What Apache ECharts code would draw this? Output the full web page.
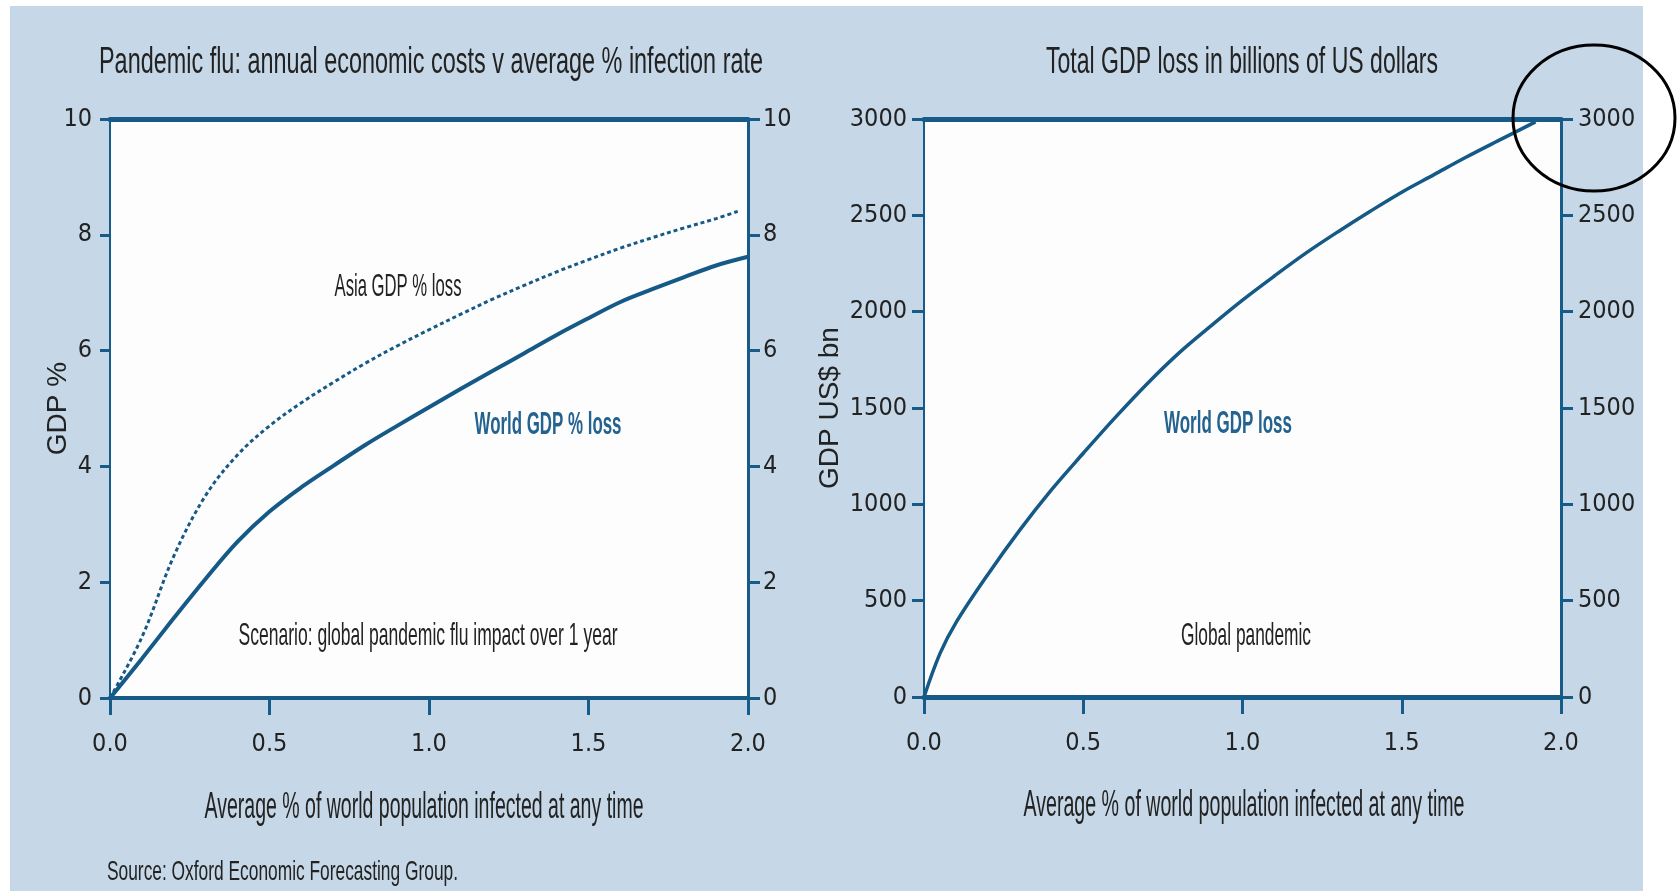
<!DOCTYPE html>
<html>
<head>
<meta charset="utf-8">
<script src="https://cdn.jsdelivr.net/npm/echarts@6/dist/echarts.min.js"></script>
<style>
  html, body { margin: 0; padding: 0; background: #ffffff; }
  #chart { width: 1677px; height: 891px; }
</style>
</head>
<body>
<div id="chart"></div>
<script>
// ---------- data ----------
const titleLeft = 'Pandemic flu: annual economic costs v average % infection rate';
const titleRight = 'Total GDP loss in billions of US dollars';
const xAxisTitle = 'Average % of world population infected at any time';
const sourceText = 'Source: Oxford Economic Forecasting Group.';
const leftYName = 'GDP %';
const rightYName = 'GDP US$ bn';
const asiaLabel = 'Asia GDP % loss';
const worldPctLabel = 'World GDP % loss';
const scenarioLabel = 'Scenario: global pandemic flu impact over 1 year';
const worldUsdLabel = 'World GDP loss';
const globalLabel = 'Global pandemic';

const xTickLabels = ['0.0', '0.5', '1.0', '1.5', '2.0'];
const leftYTicks = ['0', '2', '4', '6', '8', '10'];
const rightYTicks = ['0', '500', '1000', '1500', '2000', '2500', '3000'];

// left panel: world GDP % loss (solid)
const worldInfection = [0, 0.1, 0.2, 0.3, 0.4, 0.5, 0.6, 0.7, 0.8, 0.9, 1.0, 1.1, 1.2, 1.3, 1.4, 1.5, 1.6, 1.7, 1.8, 1.9, 2.0];
const worldGdpPct    = [0, 0.68, 1.38, 2.06, 2.70, 3.22, 3.64, 4.01, 4.37, 4.70, 5.02, 5.34, 5.65, 5.96, 6.27, 6.56, 6.84, 7.06, 7.27, 7.47, 7.62];

// left panel: Asia GDP % loss (dotted)
const asiaInfection = [0, 0.1, 0.2, 0.3, 0.4, 0.5, 0.6, 0.7, 0.8, 0.9, 1.0, 1.1, 1.2, 1.3, 1.4, 1.5, 1.6, 1.7, 1.8, 1.9, 1.97];
const asiaGdpPct    = [0, 1.05, 2.45, 3.50, 4.20, 4.70, 5.10, 5.45, 5.78, 6.08, 6.36, 6.63, 6.89, 7.13, 7.36, 7.57, 7.77, 7.95, 8.12, 8.28, 8.41];

// right panel: world GDP loss, US$ bn
const usdInfection = [0, 0.05, 0.1, 0.2, 0.3, 0.4, 0.5, 0.6, 0.7, 0.8, 0.9, 1.0, 1.1, 1.2, 1.3, 1.4, 1.5, 1.6, 1.7, 1.8, 1.92];
const worldGdpUsd  = [0, 225, 385, 635, 865, 1075, 1265, 1450, 1625, 1785, 1925, 2060, 2185, 2305, 2415, 2520, 2620, 2710, 2800, 2885, 2985];

// ---------- styles ----------
const LINE = '#155a87';
const AXIS = '#175c89';
const PANEL = '#c6d8e8';
const TEXT = '#222222';
const LABEL_FONT = "'Liberation Sans Narrow', 'DejaVu Sans Condensed', 'Liberation Sans', Arial, sans-serif";

const pairs = (xs, ys) => xs.map((x, i) => [x, ys[i]]);

const measureCtx = document.createElement('canvas').getContext('2d');
function fitText(text, x, y, targetW, size, opts) {
  opts = opts || {};
  const weight = opts.weight || 'normal';
  const fam = 'Liberation Sans';
  measureCtx.font = weight + ' ' + size + 'px "' + fam + '"';
  const w = measureCtx.measureText(text).width;
  const align = opts.align || 'center';
  return {
    type: 'text', x: x, y: y, scaleX: targetW / w, z: 50,
    style: {
      text: text, fontSize: size, fontFamily: fam, fontWeight: weight,
      fill: opts.color || TEXT,
      align: align, textAlign: align,
      verticalAlign: 'middle', textVerticalAlign: 'middle'
    }
  };
}

function xAxisBottom(gridIndex, lineW) {
  return {
    type: 'value', gridIndex: gridIndex, position: 'bottom', min: 0, max: 2, interval: 0.5,
    axisLine: { show: true, onZero: false, lineStyle: { color: AXIS, width: lineW } },
    axisTick: { show: true, inside: false, length: 17, lineStyle: { color: AXIS, width: 3 } },
    axisLabel: {
      show: true, margin: 34, fontSize: 25, fontFamily: LABEL_FONT, color: TEXT,
      formatter: v => xTickLabels[Math.round(v / 0.5)]
    },
    splitLine: { show: false }
  };
}
function xAxisTop(gridIndex) {
  return {
    type: 'value', gridIndex: gridIndex, position: 'top', min: 0, max: 2, interval: 0.5,
    axisLine: { show: true, onZero: false, lineStyle: { color: AXIS, width: 5 } },
    axisTick: { show: false }, axisLabel: { show: false }, splitLine: { show: false }
  };
}
function yAxisDef(gridIndex, pos, max, interval, ticks, lineW, tickLen, margin, extra) {
  return Object.assign({
    type: 'value', gridIndex: gridIndex, position: pos, min: 0, max: max, interval: interval,
    axisLine: { show: true, onZero: false, lineStyle: { color: AXIS, width: lineW } },
    axisTick: { show: true, inside: false, length: tickLen, lineStyle: { color: AXIS, width: 3 } },
    axisLabel: {
      show: true, margin: margin, fontSize: 25, fontFamily: LABEL_FONT, color: TEXT,
      formatter: v => ticks[Math.round(v / interval)]
    },
    splitLine: { show: false }
  }, extra || {});
}

const chart = echarts.init(document.getElementById('chart'), null, { renderer: 'canvas' });

const option = {
  backgroundColor: '#ffffff',
  animation: false,
  grid: [
    { left: 110, right: 929, top: 119, bottom: 193, show: true, backgroundColor: '#fdfdfd', borderWidth: 0, containLabel: false, outerBoundsMode: 'none' },
    { left: 924, right: 116, top: 119, bottom: 194, show: true, backgroundColor: '#fdfdfd', borderWidth: 0, containLabel: false, outerBoundsMode: 'none' }
  ],
  xAxis: [ xAxisBottom(0, 4), xAxisTop(0), xAxisBottom(1, 5), xAxisTop(1) ],
  yAxis: [
    yAxisDef(0, 'left', 10, 2, leftYTicks, 2, 10, 18, {
      name: leftYName, nameLocation: 'middle', nameGap: 38, nameRotate: 90, nameMoveOverlap: false,
      nameTextStyle: { fontFamily: 'Liberation Sans', fontSize: 28, color: '#222' }
    }),
    yAxisDef(0, 'right', 10, 2, leftYTicks, 3, 12, 15),
    yAxisDef(1, 'left', 3000, 500, rightYTicks, 2, 12, 17, {
      name: rightYName, nameLocation: 'middle', nameGap: 80, nameRotate: 90, nameMoveOverlap: false,
      nameTextStyle: { fontFamily: 'Liberation Sans', fontSize: 28, color: '#222' }
    }),
    yAxisDef(1, 'right', 3000, 500, rightYTicks, 3, 12, 17)
  ],
  series: [
    {
      name: asiaLabel, type: 'line', xAxisIndex: 0, yAxisIndex: 0,
      data: pairs(asiaInfection, asiaGdpPct), smooth: 0.35,
      showSymbol: false, silent: true,
      lineStyle: { color: LINE, width: 3, type: [4, 3] }, z: 5
    },
    {
      name: worldPctLabel, type: 'line', xAxisIndex: 0, yAxisIndex: 0,
      data: pairs(worldInfection, worldGdpPct), smooth: 0.35,
      showSymbol: false, silent: true,
      lineStyle: { color: LINE, width: 4 }, z: 5
    },
    {
      name: worldUsdLabel, type: 'line', xAxisIndex: 2, yAxisIndex: 2,
      data: pairs(usdInfection, worldGdpUsd), smooth: 0.35,
      showSymbol: false, silent: true,
      lineStyle: { color: LINE, width: 3.5 }, z: 5
    }
  ],
  graphic: [
    { type: 'rect', z: -10, silent: true, shape: { x: 10, y: 6, width: 1633, height: 885 }, style: { fill: PANEL } },
    fitText(titleLeft, 431, 63, 664, 37),
    fitText(titleRight, 1242, 63, 392, 37),
    fitText(xAxisTitle, 424, 808, 439, 37),
    fitText(xAxisTitle, 1244, 806, 441, 37),
    fitText(sourceText, 107, 872, 351, 28, { align: 'left' }),
    fitText(asiaLabel, 398, 287, 127, 32),
    fitText(worldPctLabel, 548, 425, 147, 32, { weight: 'bold', color: '#24628f' }),
    fitText(scenarioLabel, 428, 636, 379, 32),
    fitText(worldUsdLabel, 1228, 424, 128, 32, { weight: 'bold', color: '#24628f' }),
    fitText(globalLabel, 1246, 636, 130, 32),
    { type: 'ellipse', z: 100, silent: true, shape: { cx: 1594, cy: 118, rx: 81, ry: 73 }, style: { fill: 'none', stroke: '#000', lineWidth: 3 } }
  ]
};

chart.setOption(option);
</script>
</body>
</html>
